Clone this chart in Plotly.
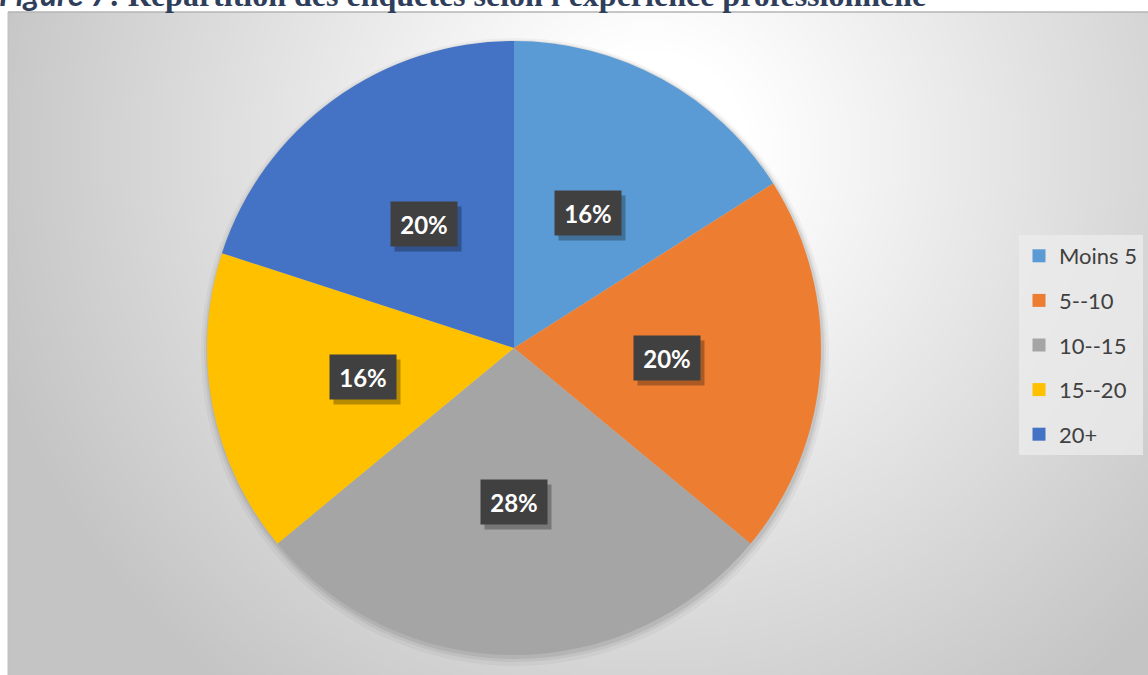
import base64, struct, zlib
import numpy as np
import plotly.graph_objects as go

# ---- data ----
categories = ["Moins 5", "5--10", "10--15", "15--20", "20+"]
values = [16, 20, 28, 16, 20]
colors = ["#5B9BD5", "#ED7D31", "#A5A5A5", "#FFC000", "#4472C4"]
title_text = ("<b><span style='font-family:Lato'><i>Figure 7</i></span>"
              ": Répartition des enquêtés selon l'expérience professionnelle</b>")

W, H = 1148, 675
# chart area (pixels)
AX0, AY0 = 8, 12
# pie geometry (pixels)
CX, CY, R = 514, 348, 307


def png_gray(arr):
    h, w = arr.shape
    raw = b"".join(b"\x00" + arr[i].tobytes() for i in range(h))
    def chunk(t, d):
        c = struct.pack(">I", len(d)) + t + d
        return c + struct.pack(">I", zlib.crc32(t + d) & 0xFFFFFFFF)
    ihdr = struct.pack(">IIBBBBB", w, h, 8, 0, 0, 0, 0)
    data = b"\x89PNG\r\n\x1a\n" + chunk(b"IHDR", ihdr) + chunk(b"IDAT", zlib.compress(raw, 9)) + chunk(b"IEND", b"")
    return "data:image/png;base64," + base64.b64encode(data).decode()


# radial background gradient
gw, gh = W - AX0, H - AY0
yy, xx = np.mgrid[0:gh, 0:gw]
px = xx + AX0
py = yy + AY0
d = np.sqrt((px - 650.0) ** 2 + (py - 150.0) ** 2)
g = np.clip(255 - 0.1 * (d - 100), 196, 255).astype(np.uint8)
bg_src = png_gray(g)


def to_paper(x, y):
    return x / W, 1 - y / H


fig = go.Figure()

# soft shadow behind the pie
for grow, dy, a in [(7, 4, 0.035), (4, 3, 0.05), (2, 2, 0.07)]:
    r = R + grow
    fig.add_trace(go.Pie(
        values=[1], labels=["s"], marker=dict(colors=[f"rgba(0,0,0,{a})"], line=dict(width=0)),
        textinfo="none", hoverinfo="skip", showlegend=False, sort=False,
        domain=dict(x=[(CX - r + 1) / W, (CX + r + 1) / W],
                    y=[1 - (CY + dy + r) / H, 1 - (CY + dy - r) / H]),
    ))

fig.add_trace(go.Pie(
    labels=categories, values=values, sort=False, direction="clockwise", rotation=0,
    marker=dict(colors=colors, line=dict(width=0)),
    textinfo="none", showlegend=False, hoverinfo="label+percent",
    domain=dict(x=[(CX - R) / W, (CX + R) / W], y=[1 - (CY + R) / H, 1 - (CY - R) / H]),
))

# legend entries
for name, col in zip(categories, colors):
    fig.add_trace(go.Scatter(
        x=[None], y=[None], mode="markers", name=name, legendgroup=name,
        marker=dict(symbol="square", size=13, color=col),
    ))

annotations = []
# data labels
total = sum(values)
cum = 0
for v in values:
    mid = (cum + v / 2) / total
    cum += v
    th = 2 * np.pi * mid
    lx = CX + 0.5 * R * np.sin(th)
    ly = CY - 0.5 * R * np.cos(th)
    xp, yp = to_paper(lx, ly)
    pct = f"{round(100 * v / total)}%"
    annotations.append(dict(
        x=xp, y=yp, xref="paper", yref="paper", text=" ", showarrow=False,
        xanchor="center", yanchor="middle",
        width=64, height=42, bgcolor="rgba(0,0,0,0.28)", xshift=4, yshift=-5,
        font=dict(color="rgba(0,0,0,0)", size=24, family="Lato"),
    ))
    annotations.append(dict(
        x=xp, y=yp, xref="paper", yref="paper", text=f"<b>{pct}</b>", showarrow=False,
        xanchor="center", yanchor="middle",
        width=64, height=42, bgcolor="#404040",
        font=dict(color="white", size=24, family="Lato"),
    ))

annotations.append(dict(
    x=0, y=1, xref="paper", yref="paper", xanchor="left", yanchor="bottom",
    text=title_text, showarrow=False, xshift=-3, yshift=-15,
    font=dict(family="Liberation Serif", size=32, color="#2F3E5B"),
))

shapes = [
    dict(type="line", xref="paper", yref="paper", x0=AX0 / W, x1=1, y0=1 - AY0 / H, y1=1 - AY0 / H,
         line=dict(color="#b4b4b4", width=1.5)),
    dict(type="line", xref="paper", yref="paper", x0=AX0 / W, x1=AX0 / W, y0=0, y1=1 - AY0 / H,
         line=dict(color="#c0c0c0", width=1)),
]

lx0, ly0 = to_paper(1019, 235)
fig.update_layout(
    width=W, height=H, autosize=False,
    margin=dict(l=0, r=0, t=0, b=0),
    paper_bgcolor="white", plot_bgcolor="rgba(0,0,0,0)",
    xaxis=dict(visible=False), yaxis=dict(visible=False),
    images=[dict(source=bg_src, xref="paper", yref="paper", x=AX0 / W, y=1 - AY0 / H,
                 sizex=gw / W, sizey=gh / H, sizing="stretch", layer="below",
                 xanchor="left", yanchor="top")],
    legend=dict(x=lx0, y=ly0, xanchor="left", yanchor="top", bgcolor="rgba(236,236,236,0.75)",
                font=dict(family="Lato", size=22, color="#404040"), tracegroupgap=13,
                borderwidth=0),
    annotations=annotations,
    shapes=shapes,
)

fig.write_html("out.html")
